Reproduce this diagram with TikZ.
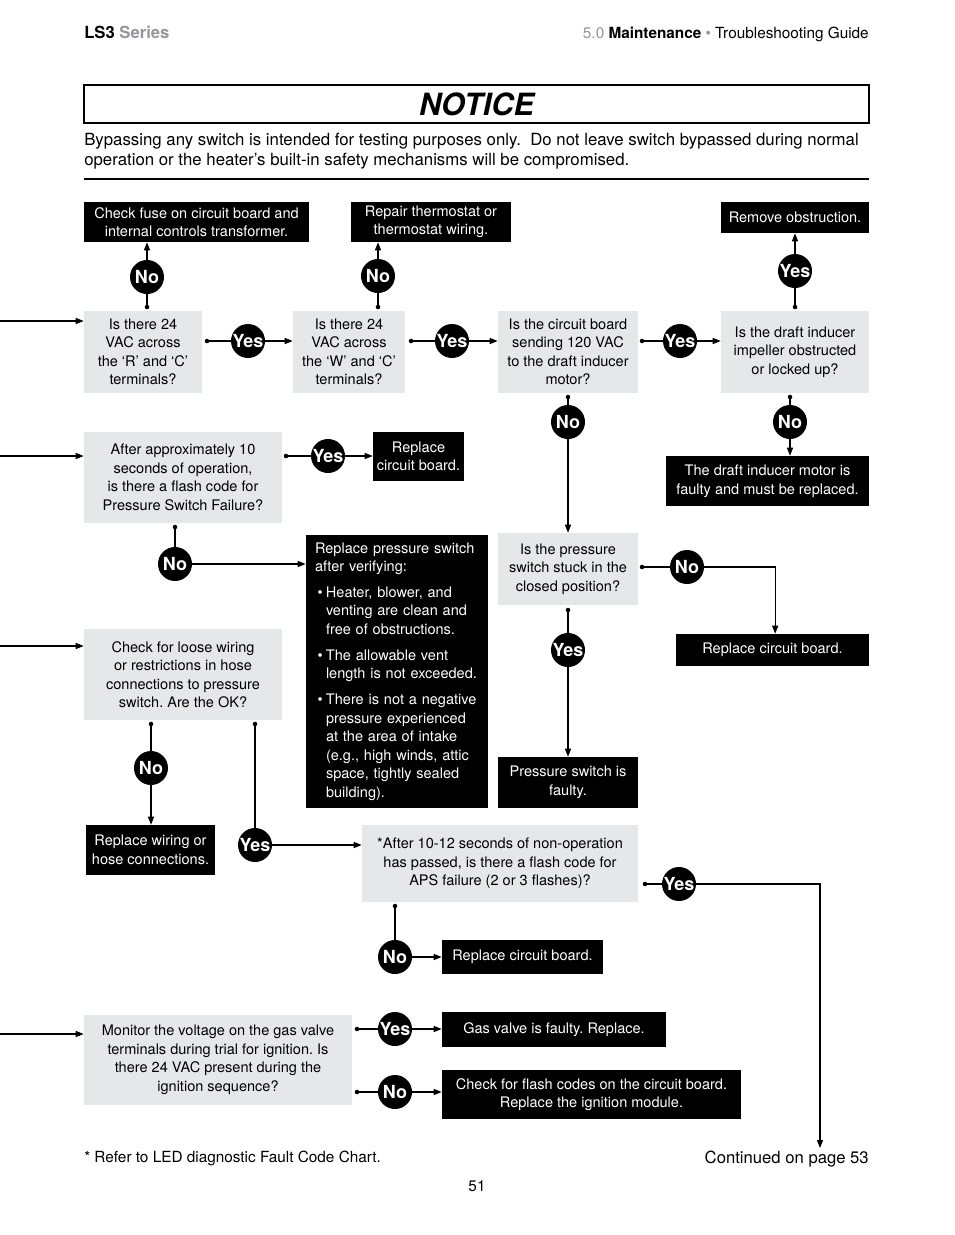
\documentclass[tikz,border=0pt]{standalone}
\usepackage{fontspec}
\setmainfont{TeX Gyre Heros}
\usetikzlibrary{arrows.meta}
\definecolor{BoxGray}{HTML}{E6E7E8}
\definecolor{MidGray}{HTML}{939598}
\newcommand{\bitem}{\makebox[8.25pt][l]{\hspace*{2pt}\textbullet}}
\newcommand{\bcont}{\hspace*{8.25pt}}
\frenchspacing

\begin{document}
\begin{tikzpicture}[x=0.75pt,y=-0.75pt,
    qbox/.style={fill=BoxGray,align=center,inner sep=0pt,font=\fontsize{10.9}{13.9}\selectfont},
    abox/.style={fill=black,text=white,align=center,inner sep=0pt,font=\fontsize{10.9}{13.9}\selectfont},
    badge/.style={circle,fill=black,text=white,inner sep=0pt,minimum size=25.5pt,
      font=\fontsize{13.5}{13.5}\selectfont\bfseries},
    wire/.style={line width=1pt},
    arr/.style={wire,-{Triangle[length=6pt,width=4.5pt]}}]
  \useasboundingbox (0,0) rectangle (954,1235);

  % page header and notice
  \node[anchor=base west,inner sep=0pt,font=\fontsize{12.5}{14}\selectfont\bfseries] (head)
    at (84,38) {LS3 \textcolor{MidGray}{Series}};
  \node[anchor=base east,inner sep=0pt,font=\fontsize{11.5}{13}\selectfont] (section)
    at (869,38) {\textcolor{MidGray}{5.0} \textbf{Maintenance} \textcolor{MidGray}{•} Troubleshooting Guide};
  \node[draw,line width=1.1pt,minimum width=588.75pt,minimum height=28.5pt,
    font=\fontsize{23}{24}\selectfont\bfseries\itshape] (notice) at (476.5,104) {NOTICE};
  \node[anchor=base west,inner sep=0pt,align=left,font=\fontsize{12.6}{15}\selectfont] (warn)
    at (84,165) {Bypassing any switch is intended for testing purposes only.\ \ Do not leave switch bypassed during normal\\
    operation or the heater’s built-in safety mechanisms will be compromised.};
  \draw[line width=1.5pt] (84,179) -- (869,179);

  % question boxes
  \node[qbox,minimum width=88.5pt,minimum height=61.5pt] (q1) at (143,352)
    {Is there 24\\VAC across\\the ‘R’ and ‘C’\\terminals?};
  \node[qbox,minimum width=84pt,minimum height=61.5pt] (q2) at (349,352)
    {Is there 24\\VAC across\\the ‘W’ and ‘C’\\terminals?};
  \node[qbox,minimum width=105pt,minimum height=61.5pt] (q3) at (568,352)
    {Is the circuit board\\sending 120 VAC\\to the draft inducer\\motor?};
  \node[qbox,minimum width=111pt,minimum height=61.5pt] (q4) at (795,352)
    {Is the draft inducer\\impeller obstructed\\or locked up?};
  \node[qbox,minimum width=148.5pt,minimum height=68.25pt] (q6) at (183,477.5)
    {After approximately 10\\seconds of operation,\\is there a flash code for\\Pressure Switch Failure?};
  \node[qbox,minimum width=105pt,minimum height=54pt] (q5) at (568,569)
    {Is the pressure\\switch stuck in the\\closed position?};
  \node[qbox,minimum width=148.5pt,minimum height=68.25pt] (q7) at (183,674.5)
    {Check for loose wiring\\or restrictions in hose\\connections to pressure\\switch. Are the OK?};
  \node[qbox,minimum width=207pt,minimum height=57.75pt] (q8) at (500,863.5)
    {*After 10-12 seconds of non-operation\\has passed, is there a flash code for\\APS failure (2 or 3 flashes)?};
  \node[qbox,minimum width=201pt,minimum height=67.5pt] (q9) at (218,1060)
    {Monitor the voltage on the gas valve\\terminals during trial for ignition. Is\\there 24 VAC present during the\\ignition sequence?};

  % action boxes
  \node[abox,minimum width=168.75pt,minimum height=30pt] (a1) at (196.5,222)
    {Check fuse on circuit board and\\internal controls transformer.};
  \node[abox,minimum width=120pt,minimum height=30pt] (a2) at (431,222)
    {Repair thermostat or\\thermostat wiring.};
  \node[abox,minimum width=111pt,minimum height=23.25pt] (a3) at (795,217.5)
    {Remove obstruction.};
  \node[abox,minimum width=152.25pt,minimum height=37.5pt] (a4) at (767.5,481)
    {The draft inducer motor is\\faulty and must be replaced.};
  \node[abox,minimum width=68.25pt,minimum height=36.75pt] (a5) at (418.5,456.5)
    {Replace\\circuit board.};
  \node[abox,align=left,inner xsep=6.75pt,text width=123pt,minimum height=204.75pt] (a6) at (397,671.5)
    {Replace pressure switch\\after verifying:\\[5.5pt]
     \bitem Heater, blower, and\\\bcont venting are clean and\\\bcont free of obstructions.\\[5.5pt]
     \bitem The allowable vent\\\bcont length is not exceeded.\\[5.5pt]
     \bitem There is not a negative\\\bcont pressure experienced\\\bcont at the area of intake\\
     \bcont (e.g., high winds, attic\\\bcont space, tightly sealed\\\bcont building).};
  \node[abox,minimum width=144.75pt,minimum height=24pt] (a7) at (772.5,650)
    {Replace circuit board.};
  \node[abox,minimum width=105pt,minimum height=38.25pt] (a8) at (568,782.5)
    {Pressure switch is\\faulty.};
  \node[abox,minimum width=96.75pt,minimum height=37.5pt] (a9) at (150.5,850)
    {Replace wiring or\\hose connections.};
  \node[abox,minimum width=120.75pt,minimum height=25.5pt] (a10) at (522.5,957)
    {Replace circuit board.};
  \node[abox,minimum width=168pt,minimum height=26.25pt] (a11) at (554,1029.5)
    {Gas valve is faulty. Replace.};
  \node[abox,minimum width=224.25pt,minimum height=36.75pt] (a12) at (591.5,1094.5)
    {Check for flash codes on the circuit board.\\Replace the ignition module.};

  % yes / no badges
  \node[badge] (n1) at (147,277) {No};
  \node[badge] (y1) at (248,341) {Yes};
  \node[badge] (n2) at (378,276) {No};
  \node[badge] (y2) at (452,341) {Yes};
  \node[badge] (y3) at (680,341) {Yes};
  \node[badge] (y4) at (795,271) {Yes};
  \node[badge] (n3) at (790,422) {No};
  \node[badge] (n4) at (568,422) {No};
  \node[badge] (y5) at (328,456) {Yes};
  \node[badge] (n5) at (175,564) {No};
  \node[badge] (n6) at (687,567) {No};
  \node[badge] (y6) at (568,650) {Yes};
  \node[badge] (n7) at (151,768) {No};
  \node[badge] (y7) at (255,845) {Yes};
  \node[badge] (y8) at (679,884) {Yes};
  \node[badge] (n8) at (395,957) {No};
  \node[badge] (y9) at (395,1029) {Yes};
  \node[badge] (n9) at (395,1092) {No};

  % entry points and branch dots
  \coordinate (in1) at (0,321);
  \coordinate (in2) at (0,456);
  \coordinate (in3) at (0,646);
  \coordinate (in4) at (0,1034);
  \coordinate (d1) at (147,307);
  \coordinate (d2) at (207,341);
  \coordinate (d3) at (378,307);
  \coordinate (d4) at (411,341);
  \coordinate (d5) at (642,341);
  \coordinate (d6) at (795,307);
  \coordinate (d7) at (790,397);
  \coordinate (d8) at (568,397);
  \coordinate (d9) at (286,456);
  \coordinate (d10) at (175,527);
  \coordinate (d11) at (642,567);
  \coordinate (d12) at (568,610);
  \coordinate (d13) at (151,724);
  \coordinate (d14) at (255,724);
  \coordinate (d15) at (645,884);
  \coordinate (d16) at (395,906);
  \coordinate (d17) at (357,1029);
  \coordinate (d18) at (357,1092);
  \coordinate (cont) at (820,1148);

  % connectors
  \draw[arr] (in1) -- (in1 -| q1.west);
  \draw[arr] (in2) -- (in2 -| q6.west);
  \draw[arr] (in3) -- (in3 -| q7.west);
  \draw[arr] (in4) -- (in4 -| q9.west);
  \foreach \d/\b in {d1/n1,d2/y1,d3/n2,d4/y2,d5/y3,d6/y4,d7/n3,d8/n4,d9/y5,d10/n5,
      d11/n6,d12/y6,d13/n7,d14/y7,d15/y8,d16/n8,d17/y9,d18/n9}
    \draw[wire] (\d) -- (\b);
  \draw[arr] (n1) -- (n1 |- a1.south);
  \draw[arr] (y1) -- (y1 -| q2.west);
  \draw[arr] (n2) -- (n2 |- a2.south);
  \draw[arr] (y2) -- (y2 -| q3.west);
  \draw[arr] (y3) -- (y3 -| q4.west);
  \draw[arr] (y4) -- (y4 |- a3.south);
  \draw[arr] (n3) -- (n3 |- a4.north);
  \draw[arr] (n4) -- (n4 |- q5.north);
  \draw[arr] (y5) -- (y5 -| a5.west);
  \draw[arr] (n5) -- (n5 -| a6.west);
  \draw[arr] (n6) -| ([xshift=2pt]a7.north);
  \draw[arr] (y6) -- (y6 |- a8.north);
  \draw[arr] (n7) -- (n7 |- a9.north);
  \draw[arr] (y7) -- (y7 -| q8.west);
  \draw[arr] (y8) -| (cont);
  \draw[arr] (n8) -- (n8 -| a10.west);
  \draw[arr] (y9) -- (y9 -| a11.west);
  \draw[arr] (n9) -- (n9 -| a12.west);
  \foreach \d in {d1,d2,d3,d4,d5,d6,d7,d8,d9,d10,d11,d12,d13,d14,d15,d16,d17,d18}
    \fill (\d) circle (1.7pt);

  % footer
  \node[anchor=base west,inner sep=0pt,font=\fontsize{11.5}{13}\selectfont] (note)
    at (84,1162) {* Refer to LED diagnostic Fault Code Chart.};
  \node[anchor=base east,inner sep=0pt,font=\fontsize{12.5}{14}\selectfont] (contd)
    at (869,1163) {Continued on page 53};
  \node[anchor=base,inner sep=0pt,font=\fontsize{11.5}{13}\selectfont] (page)
    at (477,1191) {51};
\end{tikzpicture}
\end{document}
